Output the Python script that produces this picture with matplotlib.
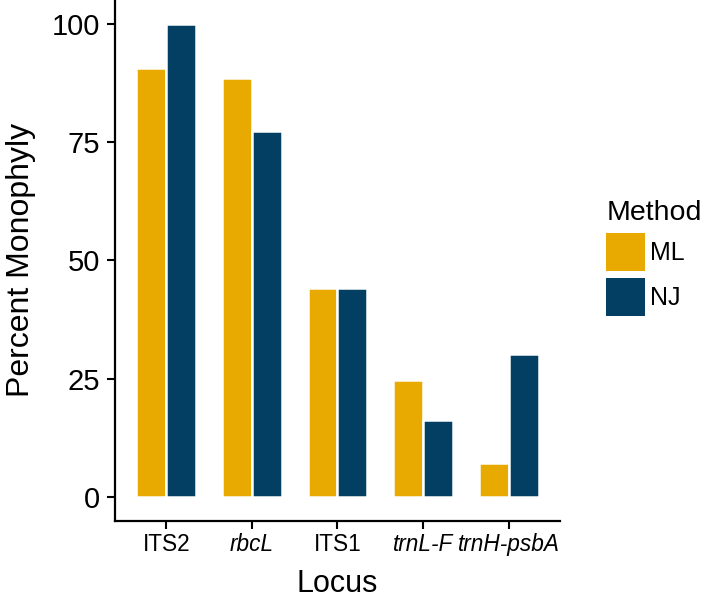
import matplotlib
matplotlib.use("Agg")
import matplotlib.pyplot as plt
import numpy as np
from matplotlib.patches import Patch

plt.rcParams['font.family'] = ['Liberation Sans', 'DejaVu Sans']

# data
loci = ["ITS2", "rbcL", "ITS1", "trnL-F", "trnH-psbA"]
italic = [False, True, False, True, True]
ml = [90.6, 88.6, 44.1, 24.7, 7.3]
nj = [100.0, 77.4, 44.1, 16.2, 30.3]
methods = ["ML", "NJ"]
colors = ["#E8AA00", "#023F62"]

fig = plt.figure(figsize=(7.09, 6.02), dpi=100)
ax = fig.add_axes([0.1622, 0.135, 0.6276, 0.865])

x = np.arange(1, len(loci) + 1)
w = 0.35
ax.bar(x - w / 2, ml, width=w, color=colors[0], edgecolor="white", linewidth=1.8)
ax.bar(x + w / 2, nj, width=w, color=colors[1], edgecolor="white", linewidth=1.8)

ax.set_xlim(0.4, 5.6)
ax.set_ylim(-5, 105)
ax.set_yticks([0, 25, 50, 75, 100])
ax.set_xticks(x)
ax.set_xticklabels(loci)
for lab, it in zip(ax.get_xticklabels(), italic):
    if it:
        lab.set_fontstyle("italic")

for s in ["top", "right"]:
    ax.spines[s].set_visible(False)
for s in ["left", "bottom"]:
    ax.spines[s].set_linewidth(1.6)
ax.tick_params(axis="both", length=6, width=1.5, color="black")
ax.tick_params(axis="y", labelsize=21, pad=5)
ax.tick_params(axis="x", labelsize=16.3, pad=3)

ax.set_xlabel("Locus", fontsize=22, labelpad=9)
ax.set_ylabel("Percent Monophyly", fontsize=23, labelpad=11)

handles = [Patch(facecolor=c, edgecolor="none") for c in colors]
leg = fig.legend(handles, methods, title="Method", loc="upper left",
                 bbox_to_anchor=(0.855, 0.668), frameon=False,
                 fontsize=18, title_fontsize=20.5, handlelength=1.55,
                 handleheight=1.96, handletextpad=0.2, labelspacing=0.28,
                 borderaxespad=0, borderpad=0)
leg._legend_box.align = "left"

fig.savefig("out.png", dpi=100)
